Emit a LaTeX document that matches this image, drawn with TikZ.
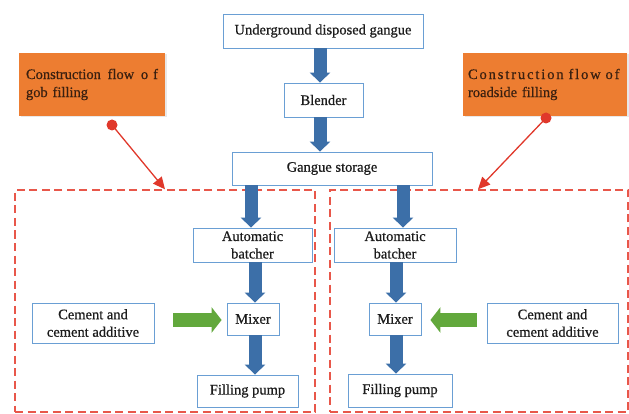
\documentclass[tikz,border=0pt]{standalone}
\usepackage{fontspec}
\setmainfont{Liberation Serif}[FakeBold=0.6]
\usetikzlibrary{arrows.meta,shadows}
\definecolor{boxblue}{HTML}{6A9FD4}
\definecolor{arrblue}{HTML}{3C6FA8}
\definecolor{arrgreen}{HTML}{62A83C}
\definecolor{orangef}{HTML}{ED7D31}
\definecolor{dashred}{HTML}{E8574A}
\definecolor{dotred}{HTML}{E0382B}
\definecolor{txt}{HTML}{1C1C1C}
\definecolor{otxt}{HTML}{3A2010}
\begin{document}
\begin{tikzpicture}[x=1pt,y=-1pt,
  font=\fontsize{14.5}{17.5}\selectfont,
  box/.style={draw=boxblue, line width=0.8pt, fill=white, text=txt, inner sep=1pt, align=center},
  obox/.style={fill=orangef, draw=none, text=otxt, inner sep=0pt, align=left,
    font=\fontsize{14.5}{18}\selectfont,
    drop shadow={opacity=0.18, shadow xshift=1.5pt, shadow yshift=-1.5pt}},
  dbox/.style={draw=dashred, line width=1.4pt, dash pattern=on 8pt off 4.5pt, inner sep=0pt},
  barrow/.style={draw=arrblue, line width=13pt, line cap=butt,
    -{Triangle[length=10pt 0 0, width=20pt 0 0]}},
  garrow/.style={draw=arrgreen, line width=14pt, line cap=butt,
    -{Triangle[length=10pt 0 0, width=25pt 0 0]}},
  rarrow/.style={draw=dotred, line width=1.3pt,
    -{Triangle[length=12pt 0 0, width=11pt 0 0]}}
]
\useasboundingbox (0,0) rectangle (629,414);

% dashed regions
\node[dbox, minimum width=300pt, minimum height=222pt] (dL) at (165,301) {};
\node[dbox, minimum width=298pt, minimum height=222pt] (dR) at (479,301) {};

% main chain
\node[box, minimum width=200pt, minimum height=34pt] (ug) at (323,31) {Underground disposed gangue};
\node[box, minimum width=79pt, minimum height=34pt] (bl) at (323.5,100) {Blender};
\node[box, minimum width=200pt, minimum height=33pt] (gs) at (332,168.5) {Gangue storage};

% left branch
\node[box, minimum width=119pt, minimum height=34pt] (abL) at (252.5,245) {Automatic\\batcher};
\node[box, minimum width=52pt, minimum height=32pt] (mxL) at (253,319) {Mixer};
\node[box, minimum width=101pt, minimum height=32pt] (fpL) at (247.5,391) {Filling pump};
\node[box, minimum width=122pt, minimum height=40pt] (cmL) at (93,323) {Cement and\\cement additive};

% right branch
\node[box, minimum width=122pt, minimum height=34pt] (abR) at (395,245) {Automatic\\batcher};
\node[box, minimum width=52pt, minimum height=32pt] (mxR) at (395,319) {Mixer};
\node[box, minimum width=104pt, minimum height=33pt] (fpR) at (400,390.5) {Filling pump};
\node[box, minimum width=131pt, minimum height=40pt] (cmR) at (552.5,323) {Cement and\\cement additive};

% orange labels
\node[obox, minimum width=146pt, minimum height=63pt, text width=132pt] (orL) at (92,84.5)
  {\makebox[132pt][l]{Construction\hfill flow\hfill o\hspace{5pt}f}\\gob filling};
\node[obox, minimum width=164pt, minimum height=63pt, text width=154pt] (orR) at (545,84.5)
  {{\addfontfeature{LetterSpace=13}Construction flow of}\\roadside filling};

% blue arrows
\draw[barrow] ([xshift=-3pt]ug.south) -- ([xshift=-3.5pt]bl.north);
\draw[barrow] ([xshift=-3.5pt]bl.south) -- ([xshift=-12pt]gs.north);
\draw[barrow] ([xshift=-81pt]gs.south) -- ([xshift=-1.5pt]abL.north);
\draw[barrow] ([xshift=2.5pt]abL.south) -- ([xshift=2pt]mxL.north);
\draw[barrow] ([xshift=2pt]mxL.south) -- ([xshift=7.5pt]fpL.north);
\draw[barrow] ([xshift=71pt]gs.south) -- ([xshift=8pt]abR.north);
\draw[barrow] ([xshift=1pt]abR.south) -- ([xshift=1pt]mxR.north);
\draw[barrow] ([xshift=1pt]mxR.south) -- ([xshift=-4pt]fpR.north);

% green arrows
\draw[garrow, shorten <=19pt, shorten >=5pt] ([yshift=3pt]cmL.east) -- ([yshift=-1pt]mxL.west);
\draw[garrow, shorten <=10pt, shorten >=9pt] ([yshift=3pt]cmR.west) -- ([yshift=-1pt]mxR.east);

% red pointers
\coordinate (pL) at (112,125);
\coordinate (pR) at (546,118);
\draw[rarrow] (pL) -- (dL.north);
\draw[rarrow] (pR) -- ([xshift=-1pt]dR.north);
\fill[dotred] (pL) circle (5.5pt);
\fill[dotred] (pR) circle (5.5pt);
\end{tikzpicture}
\end{document}
